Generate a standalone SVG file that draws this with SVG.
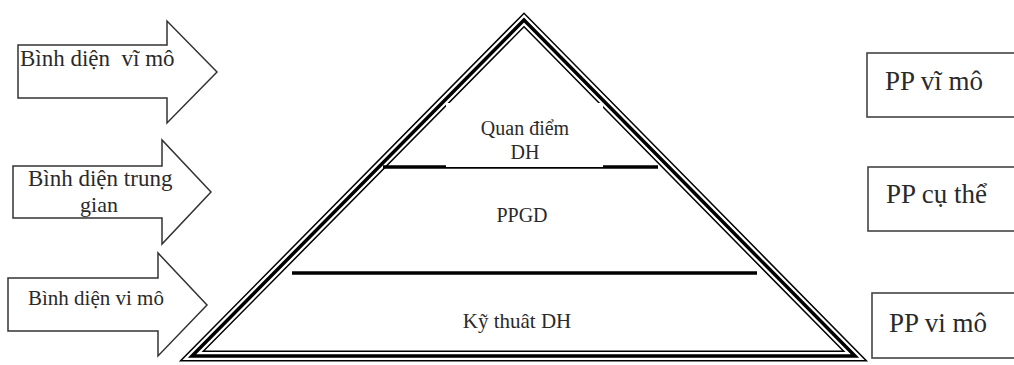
<svg xmlns="http://www.w3.org/2000/svg" width="1014" height="365" viewBox="0 0 1014 365">
  <style>
    .arrow { fill: #fff; stroke: #333; stroke-width: 1.5; stroke-linejoin: miter; }
    .box { fill: #fff; stroke: #444; stroke-width: 1.6; }
    .t { font-family: "Liberation Serif", "Times New Roman", serif; fill: #2a2a2a; white-space: pre; }
    .tri1 { fill: none; stroke: #000; stroke-width: 11; stroke-linejoin: miter; stroke-miterlimit: 10; }
    .tri2 { fill: none; stroke: #fff; stroke-width: 8; stroke-linejoin: miter; stroke-miterlimit: 10; }
    .tri3 { fill: none; stroke: #000; stroke-width: 3.5; stroke-linejoin: miter; stroke-miterlimit: 10; }
    .div { stroke: #000; stroke-width: 3.5; }
  </style>
  <rect width="1014" height="365" fill="#fff"/>

  <g id="arrow-vi-mo-macro">
    <polygon class="arrow" points="18,45 167,45 167,21 217,72 167,123 167,98 18,98"/>
    <text class="t" x="20" y="66" font-size="23">Bình diện  vĩ mô</text>
  </g>
  <g id="arrow-trung-gian">
    <polygon class="arrow" points="13,166 162,166 162,140 211,192 162,244 162,218 13,218"/>
    <text class="t" x="28" y="186" font-size="23">Bình diện trung</text>
    <text class="t" x="99" y="212" font-size="22" text-anchor="middle">gian</text>
  </g>
  <g id="arrow-vi-mo-micro">
    <polygon class="arrow" points="8,278 158,278 158,253 207,305 158,356 158,331 8,331"/>
    <text class="t" x="28" y="305" font-size="21">Bình diện vi mô</text>
  </g>

  <g id="pyramid">
    <polygon class="tri1" points="524,20 192,356 855,356"/>
    <polygon class="tri2" points="524,20 192,356 855,356"/>
    <polygon class="tri3" points="524,20 192,356 855,356"/>
  </g>

  <g id="connectors">
    <line class="div" x1="383" y1="167" x2="658" y2="167" stroke-width="3"/>
    <line class="div" x1="292" y1="273" x2="757" y2="273"/>
  </g>

  <g id="quan-diem">
    <rect x="446" y="103" width="157" height="64" fill="#fff"/>
    <text class="t" x="525" y="135" font-size="20" text-anchor="middle">Quan điểm</text>
    <text class="t" x="525" y="159" font-size="20" text-anchor="middle">DH</text>
  </g>
  <g id="ppgd">
    <text class="t" x="522" y="222" font-size="20" text-anchor="middle">PPGD</text>
  </g>
  <g id="ky-thuat">
    <text class="t" x="517" y="328" font-size="21" text-anchor="middle">Kỹ thuât DH</text>
  </g>

  <g id="pp-vi-mo-macro">
    <rect class="box" x="867" y="53" width="160" height="64"/>
    <text class="t" x="885" y="90" font-size="27">PP vĩ mô</text>
  </g>
  <g id="pp-cu-the">
    <rect class="box" x="868" y="167" width="160" height="64"/>
    <text class="t" x="886" y="203" font-size="27">PP cụ thể</text>
  </g>
  <g id="pp-vi-mo-micro">
    <rect class="box" x="872" y="293" width="160" height="65"/>
    <text class="t" x="889" y="332" font-size="27">PP vi mô</text>
  </g>
</svg>
